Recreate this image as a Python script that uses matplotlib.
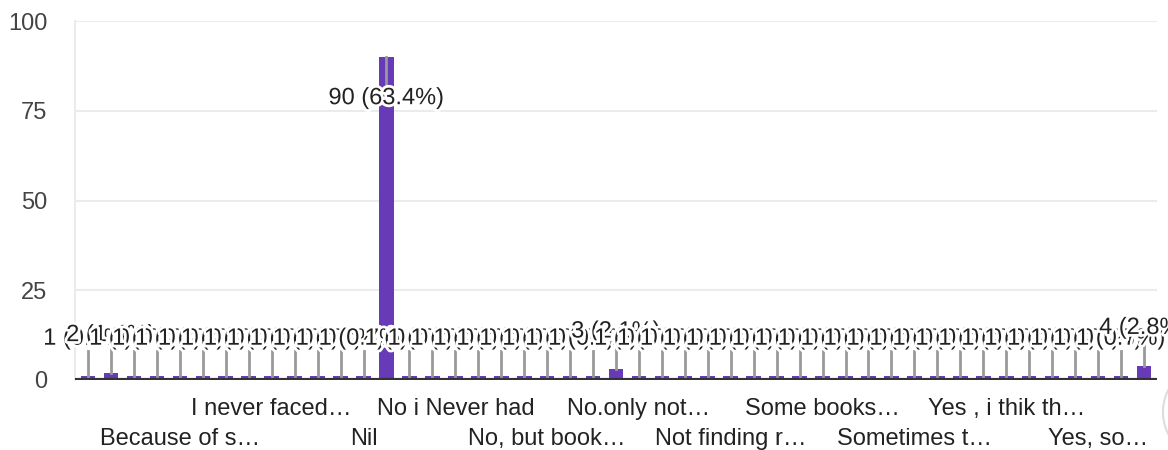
import matplotlib.pyplot as plt
import matplotlib.patheffects as pe
from matplotlib.patches import Ellipse

# responses, sorted alphabetically (only every 4th label is shown on the axis)
counts = [1, 2, 1, 1, 1, 1, 1, 1, 1, 1, 1, 1, 1, 90, 1, 1, 1, 1, 1, 1, 1, 1, 1, 3,
          1, 1, 1, 1, 1, 1, 1, 1, 1, 1, 1, 1, 1, 1, 1, 1, 1, 1, 1, 1, 1, 1, 4]
total = 142
shown_labels = {
    4: "Because of s\u2026",
    8: "I never faced\u2026",
    12: "Nil",
    16: "No i Never had",
    20: "No, but book\u2026",
    24: "No.only not\u2026",
    28: "Not finding r\u2026",
    32: "Some books\u2026",
    36: "Sometimes t\u2026",
    40: "Yes , i thik th\u2026",
    44: "Yes, so\u2026",
}
yticks = [0, 25, 50, 75, 100]

plt.rcParams['font.family'] = ['Liberation Sans', 'DejaVu Sans']
purple = '#673ab7'

fig = plt.figure(figsize=(11.68, 4.5), dpi=100)
ax = fig.add_axes([75 / 1168, 70 / 450, (1157 - 75) / 1168, 359 / 450])

x = list(range(len(counts)))
ax.bar(x, counts, width=0.64, color=purple, zorder=2)
ax.set_xlim(-0.57, len(counts) - 0.43)
ax.set_ylim(0, 100)

# grid + axes styling
ax.set_yticks(yticks)
ax.set_yticklabels([str(t) for t in yticks], fontsize=17, color='#444444')
ax.tick_params(axis='y', length=0, pad=20)
for t in yticks[1:]:
    ax.axhline(t, color='#ebebeb', lw=1.5, zorder=0)
ax.axhline(0, color='#333333', lw=3, zorder=3)
for s in ['top', 'right', 'bottom']:
    ax.spines[s].set_visible(False)
ax.spines['left'].set_color('#ebebeb')
ax.spines['left'].set_linewidth(1.5)

# x labels, alternating rows
ax.set_xticks([])
for i, lab in shown_labels.items():
    yoff = -0.165 if (i // 4) % 2 == 1 else -0.08
    ax.text(i, yoff, lab, transform=ax.get_xaxis_transform(), ha='center',
            va='center', fontsize=17, color='#222222', clip_on=False)

# annotations with leader lines
halo = [pe.withStroke(linewidth=4, foreground='white')]
for i, v in enumerate(counts):
    label = f"{v} ({v / total * 100:.1f}%)"
    if v > 50:
        ly = v - 11.5
        ax.plot([i, i], [v, ly + 3], color='#999999', lw=2, zorder=3)
    else:
        ly = v + 10.5
        ax.plot([i, i], [v, ly - 3.5], color='#999999', lw=2, zorder=3)
    ax.text(i, ly, label, ha='center', va='center', fontsize=17, color='#222222',
            path_effects=halo, zorder=4, clip_on=False)

# partial ui button at the right edge (round, so size it in pixels)
fig.patches.append(Ellipse((1212 / 1168, 38 / 450), 98 / 1168, 98 / 450,
                           transform=fig.transFigure, facecolor='white',
                           edgecolor='#dddddd', lw=1.5))

fig.savefig('out.png', dpi=100)
